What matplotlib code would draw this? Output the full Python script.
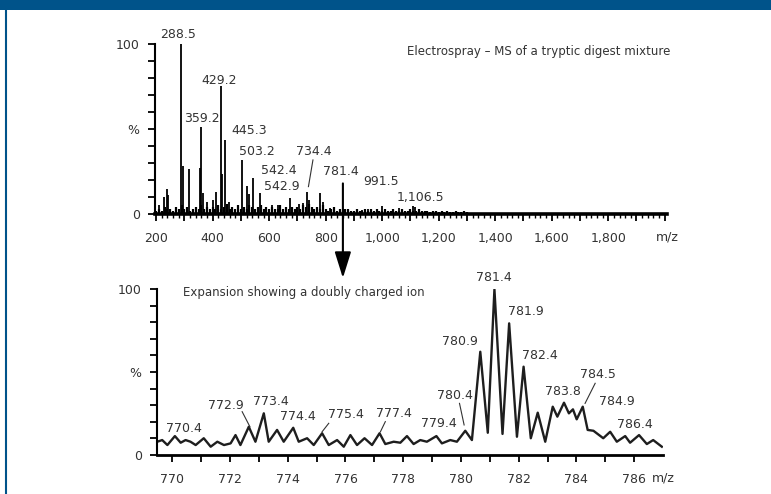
import numpy as np
import matplotlib
matplotlib.use('Agg')
import matplotlib.pyplot as plt
from matplotlib.patches import ConnectionPatch, Rectangle
from matplotlib.lines import Line2D
import matplotlib.transforms as mtransforms

# --- top panel: full scan, stick spectrum (m/z, % intensity) ---
peak_mz = [211, 228, 238, 242, 288.5, 296, 317, 354, 359.2, 367, 380, 403, 412,
           429.2, 432, 445.3, 458, 503.2, 521, 527, 544, 568, 609, 633, 674, 705,
           719, 734.4, 740, 781.4, 790, 816, 860, 930, 950, 999, 1040, 1061, 1108, 1117]
peak_int = [5.3, 10.2, 14.5, 11, 100, 28, 26.5, 27, 51.4, 12.2, 7, 8.5, 13,
            75.3, 23.5, 43.5, 7, 31.8, 16.5, 11.5, 21, 12.2, 5.5, 5.5, 9.2, 6,
            6.5, 13.1, 8, 12.5, 7, 3.5, 3, 2.5, 3, 4.7, 3, 3.7, 4.7, 4.3]

# baseline noise, one stick every 10 m/z from 200 to 1300
noise_mz = np.arange(200, 1310, 10)
noise_int = [2, 3, 2, 4, 3, 3, 2, 4, 3, 5,
             3, 4, 2, 3, 4, 3, 5, 3, 4, 3,
             4, 3, 5, 3, 4, 6, 3, 4, 3, 5,
             3, 4, 3, 5, 4, 3, 4, 5, 3, 4,
             3, 4, 3, 3, 5, 3, 4, 3, 4, 3,
             4, 3, 5, 4, 6, 4, 3, 4, 3, 5,
             3, 2, 3, 4, 2, 3, 2, 3, 3, 2,
             2, 3, 2, 2, 3, 2, 3, 2, 3, 2,
             2, 3, 2, 2, 3, 2, 2, 3, 2, 2,
             3, 2, 2, 3, 2, 2, 2, 1, 2, 2,
             1, 2, 1, 2, 1, 1, 2, 1, 1, 2,
             1]

top_labels = ['288.5', '429.2', '359.2', '445.3', '503.2', '734.4',
              '542.4', '542.9', '781.4', '991.5', '1,106.5']

# --- bottom panel: expansion around the doubly charged ion ---
exp_mz = [769.48, 769.65, 769.83, 770.09, 770.29, 770.46, 770.63, 770.81, 771.09, 771.33,
          771.56, 771.79, 772.02, 772.19, 772.36, 772.65, 772.88, 773.17, 773.34, 773.63,
          773.86, 774.19, 774.38, 774.67, 774.90, 775.19, 775.42, 775.71, 775.94, 776.17,
          776.40, 776.66, 776.92, 777.18, 777.38, 777.67, 777.90, 778.13, 778.36, 778.59,
          778.82, 779.15, 779.34, 779.63, 779.86, 780.15, 780.38, 780.67, 780.93, 781.16,
          781.44, 781.67, 781.94, 782.17, 782.42, 782.66, 782.92, 783.18, 783.34, 783.57,
          783.74, 783.88, 784.01, 784.22, 784.39, 784.59, 784.93, 785.17, 785.40, 785.69,
          785.86, 786.17, 786.44, 786.66, 786.96]
exp_int = [8.0, 9.0, 6.0, 11.4, 7.4, 9.0, 8.0, 6.0, 10.1, 5.0,
           8.0, 6.0, 7.0, 12.0, 6.0, 17.0, 8.0, 25.1, 8.0, 15.1,
           8.0, 16.4, 8.0, 10.1, 6.0, 13.1, 6.0, 9.0, 5.0, 12.0,
           6.0, 10.1, 6.0, 13.1, 6.6, 8.0, 7.4, 11.4, 6.6, 9.0,
           8.0, 11.4, 7.0, 9.0, 8.0, 14.6, 9.0, 62.2, 13.4, 99.8,
           12.7, 79.3, 11.0, 53.2, 10.1, 25.5, 8.0, 29.1, 23.1, 31.5,
           25.1, 27.5, 21.5, 29.1, 15.1, 14.6, 10.1, 14.0, 8.0, 11.4,
           7.4, 12.0, 6.6, 9.0, 5.0]

exp_labels = ['770.4', '772.9', '773.4', '774.4', '775.4', '777.4', '779.4', '780.4',
              '780.9', '781.4', '781.9', '782.4', '783.8', '784.5', '784.9', '786.4']

txt = '#333333'
blue = '#00538a'
fs = 9

fig = plt.figure(figsize=(7.71, 4.94), dpi=100)
W, H = 771, 494

# header bar and left border
fig.add_artist(Rectangle((0, 1 - 10 / H), 1, 10 / H, transform=fig.transFigure,
                         color=blue, lw=0))
fig.add_artist(Line2D([5.5 / W, 5.5 / W], [0, 1 - 10 / H], transform=fig.transFigure,
                      color=blue, lw=1.5))

ax1 = fig.add_axes([155 / W, (H - 214) / H, 512 / W, 170 / H])
ax2 = fig.add_axes([157 / W, (H - 455) / H, 506 / W, 166 / H])

for ax in (ax1, ax2):
    ax.spines['top'].set_visible(False)
    ax.spines['right'].set_visible(False)
    ax.spines['left'].set_linewidth(1.5)
    ax.spines['bottom'].set_linewidth(2)
    ax.set_ylim(0, 100)
    ax.set_yticks([0, 50, 100])
    ax.set_yticklabels(['0', '%', '100'])
    ax.set_yticks(np.arange(0, 101, 10), minor=True)
    ax.tick_params(axis='y', which='both', direction='out', length=5, width=1.3,
                   pad=6, labelsize=fs, labelcolor=txt)
    ax.tick_params(axis='x', which='major', direction='out', length=5, width=1.3,
                   pad=8, labelsize=fs, labelcolor=txt)

# top spectrum
ax1.spines['bottom'].set_linewidth(2.6)
ax1.set_xlim(196, 2008)
ax1.vlines(noise_mz, 0, noise_int, color='black', lw=1.6)
ax1.vlines(peak_mz, 0, peak_int, color='black', lw=1.3)
xt = np.arange(200, 2001, 100)
ax1.set_xticks(xt)
ax1.set_xticklabels([f'{v:,}' if v % 200 == 0 and v <= 1800 else '' for v in xt])
ax1.set_xticks(np.arange(200, 2001, 20), minor=True)
ax1.tick_params(axis='x', which='minor', direction='out', length=3, width=1)

top_pos = [(279, 105.3), (424, 78.8), (361.8, 56.3), (529, 49.4), (556, 36.6),
           (757, 37), (633, 25.3), (645, 16.1), (855, 24.9), (995, 19.0), (1134, 9.8)]
for lab, (x, y) in zip(top_labels, top_pos):
    ax1.text(x, y, lab, ha='center', va='center', fontsize=fs, color=txt, clip_on=False)
ax1.plot([755, 739], [31.8, 16.1], color=txt, lw=0.8)
ax1.text(1088, 95.5, 'Electrospray \u2013 MS of a tryptic digest mixture', ha='left',
         va='center', fontsize=fs - 0.5, color=txt)
tr1 = mtransforms.blended_transform_factory(ax1.transData, ax1.transAxes)
ax1.text(2009, -0.135, 'm/z', transform=tr1, ha='center', va='center', fontsize=fs,
         color=txt)

# bottom spectrum
ax2.set_xlim(769.47, 787.0)
ax2.plot(exp_mz, exp_int, color='#1e1e1e', lw=1.7, solid_joinstyle='round')
ax2.set_xticks(np.arange(770, 787, 1))
ax2.set_xticklabels([str(v) if v % 2 == 0 else '' for v in range(770, 787)])

exp_pos = [(770.40, 16.1), (771.87, 30.1), (773.40, 32.1), (774.36, 23.1), (776.03, 24.1),
           (777.67, 25.1), (779.23, 19.1), (779.80, 36.1), (779.98, 68.3), (781.13, 107.0),
           (782.26, 86.3), (782.74, 60.2), (783.53, 38.1), (784.76, 48.2), (785.40, 32.1),
           (786.03, 18.1)]
for lab, (x, y) in zip(exp_labels, exp_pos):
    ax2.text(x, y, lab, ha='center', va='center', fontsize=fs, color=txt, clip_on=False)
leaders = [((772.42, 26.1), (772.69, 17.0)), ((775.42, 19.1), (775.19, 14.0)),
           ((777.38, 20.1), (777.21, 14.0)), ((779.95, 31.1), (780.11, 18.1)),
           ((784.65, 43.2), (784.30, 31.1))]
for (x0, y0), (x1, y1) in leaders:
    ax2.plot([x0, x1], [y0, y1], color=txt, lw=0.8)
ax2.text(770.38, 97.8, 'Expansion showing a doubly charged ion', ha='left', va='center',
         fontsize=fs - 0.5, color=txt)
tr2 = mtransforms.blended_transform_factory(ax2.transData, ax2.transAxes)
ax2.text(787.0, -0.139, 'm/z', transform=tr2, ha='center', va='center', fontsize=fs,
         color=txt)

# arrow from the 781.4 ion in the full scan down to the expansion
con = ConnectionPatch(xyA=(861, 18), coordsA=ax1.transData,
                      xyB=(775.91, 106.6), coordsB=ax2.transData,
                      arrowstyle='-|>,head_length=1.6,head_width=0.5', mutation_scale=10,
                      lw=1.5, color='black', shrinkA=0, shrinkB=0)
fig.add_artist(con)

fig.savefig('out.png', dpi=100)
